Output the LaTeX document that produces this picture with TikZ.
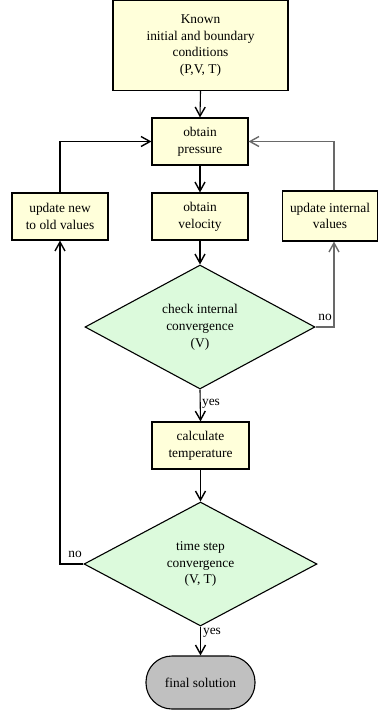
\documentclass[tikz,border=0pt]{standalone}
\usepackage{fontspec}
\setmainfont{Liberation Serif}
\usetikzlibrary{arrows.meta,shapes.geometric,positioning}

\definecolor{boxfill}{RGB}{255,255,218}
\definecolor{decfill}{RGB}{220,250,220}
\definecolor{endfill}{RGB}{192,192,192}
\definecolor{loopgray}{RGB}{105,105,105}

\begin{document}
\begin{tikzpicture}[x=1pt,y=1pt,
  every node/.style={font=\fontsize{13.4}{16.8}\selectfont},
  procbox/.style={draw=black, line width=1.1pt, fill=boxfill, rectangle,
    align=center, inner sep=0pt},
  decbox/.style={draw=black, line width=1.1pt, fill=decfill, diamond,
    align=center, inner sep=0pt, minimum width=#1, minimum height=124pt},
  endbox/.style={draw=black, line width=1.1pt, fill=endfill,
    rounded corners=26pt, minimum width=109pt, minimum height=53pt,
    inner sep=0pt},
  flow/.style={draw=black, line width=1.1pt,
    -{Straight Barb[length=9pt,width=10pt,line width=1.4pt]}},
  lbl/.style={inner sep=0pt}
]
\useasboundingbox (0,0) rectangle (378,-713);

% process boxes
\node[procbox, minimum width=175pt, minimum height=90pt] (known) at (200.5,-45.5)
  {Known\\initial and boundary\\conditions\\ (P,V, T)};
\node[procbox, minimum width=96pt, minimum height=47pt] (press) at (200,-141.5)
  {obtain\\pressure};
\node[procbox, minimum width=96pt, minimum height=47pt] (vel) at (200,-216.5)
  {obtain\\velocity};
\node[procbox, minimum width=96pt, minimum height=47pt] (updnew) at (60,-216.5)
  {update new\\to old values};
\node[procbox, minimum width=95pt, minimum height=50pt] (updint) at (330,-216)
  {update internal\\values};

% decisions
\node[decbox=230pt] (check) at (200,-327)
  {check internal\\convergence\\ (V)};
\node[procbox, minimum width=97pt, minimum height=47pt] (calc) at (200.5,-445.5)
  {calculate\\temperature};
\node[decbox=233pt] (tstep) at (200.5,-564)
  {time step\\convergence\\ (V, T)};

% terminal
\node[endbox] (final) at (200.5,-682.5) {final solution};

% main flow
\draw[flow] (known.south) -- (press.north);
\draw[flow] (press.south) -- (vel.north);
\draw[flow] (vel.south) -- (check.north);
\draw[flow] (check.south) -- (calc.north);
\draw[flow] (calc.south) -- (tstep.north);
\draw[flow] (tstep.south) -- (final.north);

% inner iteration loop
\draw[flow, draw=loopgray] (check.east) -| ([xshift=4pt]updint.south);
\draw[flow, draw=loopgray] ([xshift=4pt]updint.north) |- (press.east);

% time step loop
\draw[flow] (tstep.west) -| (updnew.south);
\draw[flow] (updnew.north) |- (press.west);

% branch labels
\node[lbl] (no1) at (325,-317) {no};
\node[lbl] (yes1) at (211,-404) {yes};
\node[lbl] (no2) at (75,-554) {no};
\node[lbl] (yes2) at (212,-633) {yes};
\end{tikzpicture}
\end{document}
